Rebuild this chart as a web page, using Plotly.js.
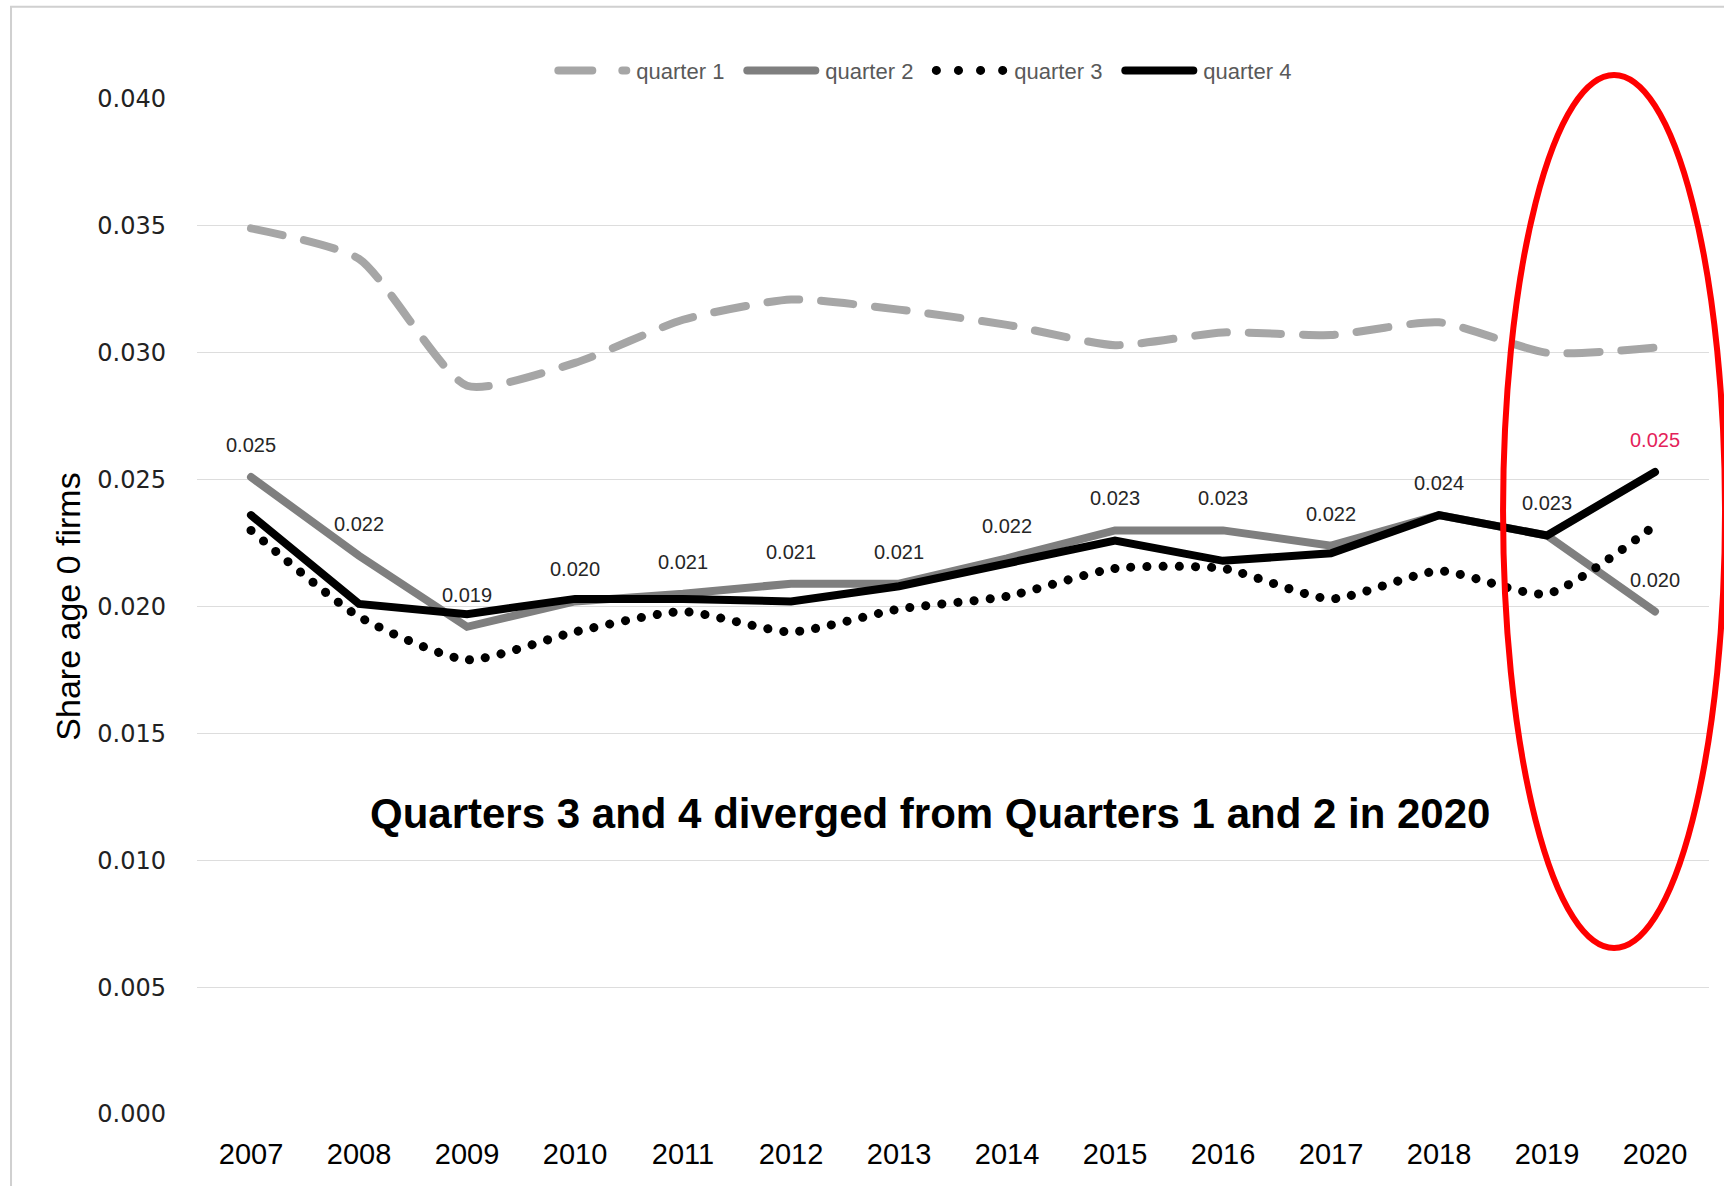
<!DOCTYPE html>
<html>
<head>
<meta charset="utf-8">
<script src="https://cdn.plot.ly/plotly-3.0.1.min.js"></script>
<style>
  html, body { margin: 0; padding: 0; background: #ffffff; }
  #chart { width: 1724px; height: 1186px; }
</style>
</head>
<body>
<div id="chart"></div>
<script>
// ---- data ----
const years = ["2007","2008","2009","2010","2011","2012","2013","2014","2015","2016","2017","2018","2019","2020"];
const quarter1 = [0.0349,0.0337,0.0287,0.0296,0.0313,0.0321,0.0317,0.0311,0.0303,0.0308,0.0307,0.0312,0.0300,0.0302];
const quarter2 = [0.0251,0.0220,0.0192,0.0202,0.0205,0.0209,0.0209,0.0219,0.0230,0.0230,0.0224,0.0236,0.0228,0.0198];
const quarter3 = [0.0230,0.0196,0.0179,0.0190,0.0198,0.0190,0.0199,0.0204,0.0215,0.0215,0.0203,0.0214,0.0205,0.0232];
const quarter4 = [0.0236,0.0201,0.0197,0.0203,0.0203,0.0202,0.0208,0.0217,0.0226,0.0218,0.0221,0.0236,0.0228,0.0253];
const q2Labels = ["0.025","0.022","0.019","0.020","0.021","0.021","0.021","0.022","0.023","0.023","0.022","0.024","0.023","0.020"];
const q4Labels = ["","","","","","","","","","","","","","0.025"];
const seriesNames = ["quarter 1","quarter 2","quarter 3","quarter 4"];
const noteText = "Quarters 3 and 4 diverged from Quarters 1 and 2 in 2020";
const yAxisTitle = "Share age 0 firms";

const sans = "'Liberation Sans', Arial, sans-serif";

const traces = [
  {x: years, y: quarter1, name: seriesNames[0], type: "scatter", mode: "lines",
   line: {color: "#A6A6A6", width: 8, dash: "32px,22px", shape: "spline", smoothing: 0.6}},
  {x: years, y: quarter2, name: seriesNames[1], type: "scatter", mode: "lines",
   line: {color: "#7F7F7F", width: 8}},
  {x: years, y: quarter3, name: seriesNames[2], type: "scatter", mode: "lines",
   line: {color: "#000000", width: 9, dash: "dot", shape: "spline", smoothing: 0.6}},
  {x: years, y: quarter4, name: seriesNames[3], type: "scatter", mode: "lines",
   line: {color: "#000000", width: 8}}
];

const annotations = [];
years.forEach((yr, i) => {
  // category axis: position annotations by category index
  if (q2Labels[i]) annotations.push({x: i, y: quarter2[i], text: q2Labels[i], showarrow: false,
    yshift: 32, font: {family: sans, size: 20, color: "#262626"}});
  if (q4Labels[i]) annotations.push({x: i, y: quarter4[i], text: q4Labels[i], showarrow: false,
    yshift: 32, font: {family: sans, size: 20, color: "#E4225A"}});
});
annotations.push({xref: "paper", yref: "paper", x: 0.485, y: 0.271, text: "<b>" + noteText + "</b>",
  showarrow: false, font: {family: sans, size: 42, color: "#000000"}});

const layout = {
  width: 1724, height: 1186,
  margin: {l: 197, r: 15, t: 99, b: 72},
  paper_bgcolor: "#ffffff", plot_bgcolor: "#ffffff",
  showlegend: true,
  legend: {orientation: "h", x: 0.485, xanchor: "center", y: 1.028, yanchor: "middle",
    font: {family: sans, size: 22, color: "#595959"}, itemwidth: 74, tracegroupgap: 0,
    entrywidth: 100, entrywidthmode: "pixels"},
  xaxis: {type: "category", range: [-0.5, 13.5], showgrid: false, zeroline: false, showline: false,
    ticks: "", tickfont: {family: sans, size: 29, color: "#000000"}, ticklabelstandoff: 20},
  yaxis: {range: [0, 0.040], dtick: 0.005, tickformat: ".3f", showgrid: true, gridcolor: "#DDDDDD", gridwidth: 1,
    zeroline: false, showline: false, ticks: "", ticklabelstandoff: 30,
    tickfont: {family: "'DejaVu Sans', Verdana, sans-serif", size: 24, color: "#222222"},
    title: {text: yAxisTitle, font: {family: sans, size: 34, color: "#000000"}, standoff: 6}},
  annotations: annotations,
  shapes: [
    {type: "rect", xref: "paper", yref: "paper", x0: -0.123, x1: 1.02, y0: -0.08, y1: 1.091,
     line: {color: "#D0D0D0", width: 2}, fillcolor: "rgba(0,0,0,0)", layer: "below"},
    {type: "circle", xref: "paper", yref: "paper", x0: 0.8638, x1: 1.0106, y0: 0.1635, y1: 1.0236,
     line: {color: "#FF0000", width: 6}, fillcolor: "rgba(0,0,0,0)"}
  ]
};

Plotly.newPlot("chart", traces, layout, {displayModeBar: false, staticPlot: true}).then(gd => {
  // round caps so that the dotted series shows round dots like the reference
  gd.querySelectorAll(".scatterlayer .trace").forEach((tr, idx) => {
    tr.querySelectorAll("path.js-line").forEach(p => {
      p.style.strokeLinecap = "round";
      if (idx === 2) p.style.strokeDasharray = "0.1px,16px";
    });
  });
  // longer legend symbols, like the reference legend
  gd.querySelectorAll(".legend .traces").forEach((tr, idx) => {
    tr.querySelectorAll("path.js-line").forEach(p => {
      p.setAttribute("d", "M6,0h68");
      p.style.strokeLinecap = "round";
      if (idx === 2) p.style.strokeDasharray = "0.1px,22px";
      if (idx === 0) p.style.strokeDasharray = "34px,30px";
    });
  });
});
</script>
</body>
</html>
